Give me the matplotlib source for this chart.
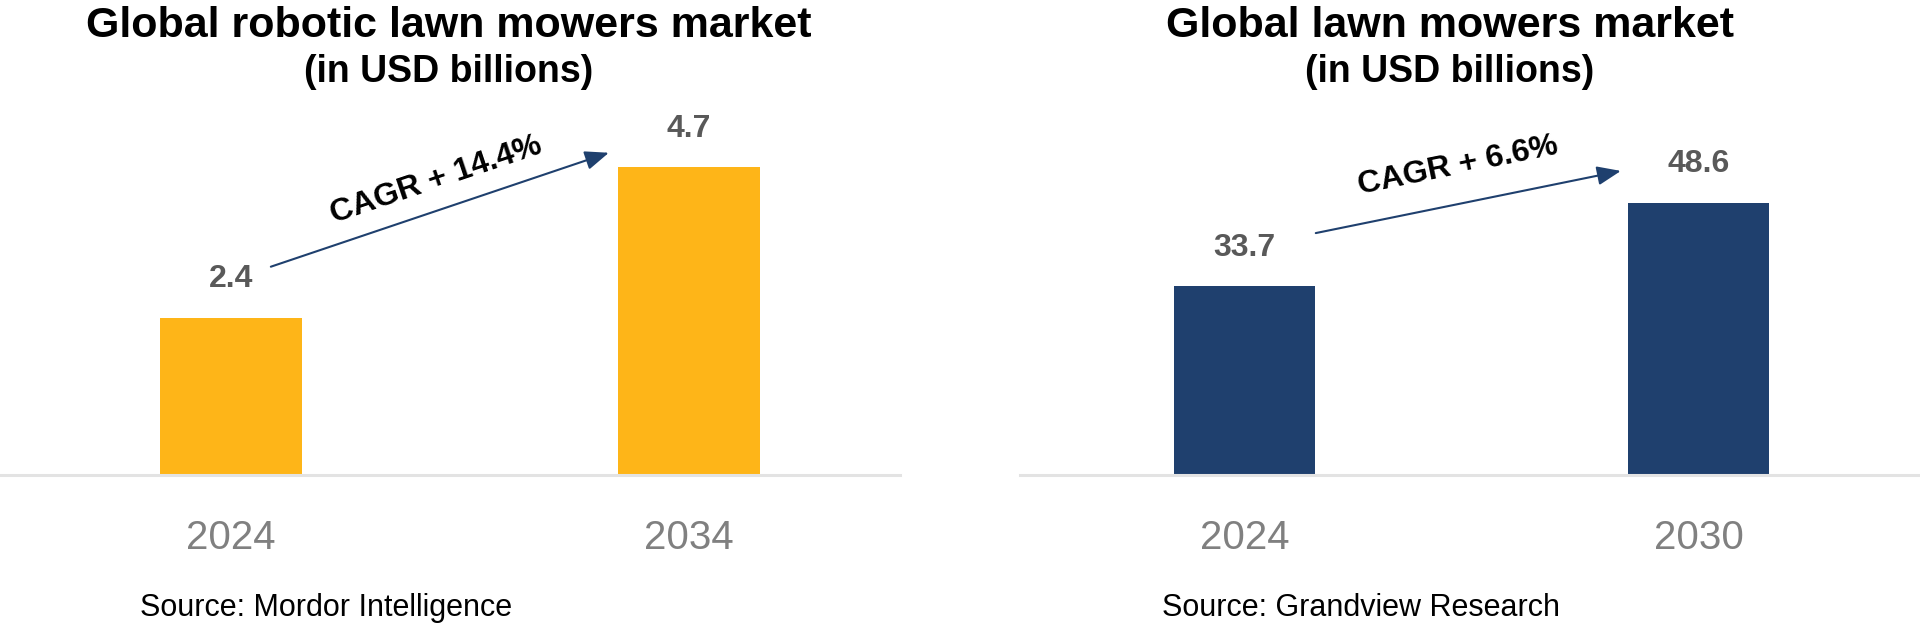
import matplotlib
matplotlib.use("Agg")
import matplotlib.pyplot as plt

plt.rcParams["font.family"] = ["Liberation Sans", "DejaVu Sans"]

# left panel: robotic lawn mowers
robo_years = ["2024", "2034"]
robo_vals = [2.4, 4.7]
robo_cagr = "CAGR + 14.4%"
robo_title = "Global robotic lawn mowers market"
robo_source = "Source: Mordor Intelligence"

# right panel: all lawn mowers
lawn_years = ["2024", "2030"]
lawn_vals = [33.7, 48.6]
lawn_cagr = "CAGR + 6.6%"
lawn_title = "Global lawn mowers market"
lawn_source = "Source: Grandview Research"

subtitle = "(in USD billions)"

ORANGE = "#FEB518"
NAVY = "#1F406E"
LABEL_GREY = "#595959"
TICK_GREY = "#808080"
AXIS_GREY = "#E3E3E3"

W, H = 1920, 626
fig = plt.figure(figsize=(W / 100, H / 100), dpi=100)


def px_box(x0, x1, y_base, y_top):
    return [x0 / W, 1 - y_base / H, (x1 - x0) / W, (y_base - y_top) / H]


def panel(rect, xlim, ymax, years, vals, color, cagr, arrow, text_xy, rot):
    ax = fig.add_axes(rect)
    xs = list(range(len(vals)))
    ax.bar(xs, vals, width=0.31, color=color, zorder=2)
    ax.set_xlim(*xlim)
    ax.set_ylim(0, ymax)
    for s in ("top", "right", "left"):
        ax.spines[s].set_visible(False)
    ax.spines["bottom"].set_color(AXIS_GREY)
    ax.spines["bottom"].set_linewidth(2.2)
    ax.set_yticks([])
    ax.set_xticks(xs, years)
    ax.tick_params(axis="x", length=0, pad=32, labelsize=29, labelcolor=TICK_GREY)
    for x, v in zip(xs, vals):
        ax.annotate(f"{v:.1f}", (x, v), xytext=(0, 22), textcoords="offset points",
                    ha="center", va="baseline", fontsize=23, fontweight="bold",
                    color=LABEL_GREY)
    (x0, y0), (x1, y1) = arrow
    ax.annotate("", xy=(x1, y1), xytext=(x0, y0),
                arrowprops=dict(arrowstyle="-|>,head_length=1.45,head_width=0.58",
                                color=NAVY, lw=1.5, shrinkA=0, shrinkB=0))
    ax.text(text_xy[0], text_xy[1], cagr, rotation=rot, rotation_mode="anchor",
            ha="center", va="center", fontsize=23, fontweight="bold", color="black")
    return ax


panel(px_box(0, 900, 475, 100), (-231 / 458, (900 - 231) / 458), 375 / 65.5,
      robo_years, robo_vals, ORANGE, robo_cagr,
      ((0.087, 3.18), (0.825, 4.92)), (0.448, 4.50), 18.6)

panel(px_box(1020, 1920, 475, 100), (-(1244.5 - 1020) / 454, (1920 - 1244.5) / 454), 375 / 5.6,
      lawn_years, lawn_vals, NAVY, lawn_cagr,
      ((0.157, 43.2), (0.829, 54.3)), (0.471, 55.2), 11.5)

for cx, title in ((449, robo_title), (1450, lawn_title)):
    fig.text(cx / W, 1 - 37 / H, title, ha="center", va="baseline",
             fontsize=31, fontweight="bold")
    fig.text(cx / W, 1 - 82 / H, subtitle, ha="center", va="baseline",
             fontsize=27, fontweight="bold")

for lx, src in ((140, robo_source), (1162, lawn_source)):
    fig.text(lx / W, 1 - 616 / H, src, ha="left", va="baseline", fontsize=22)

fig.savefig("out.png", dpi=100)
